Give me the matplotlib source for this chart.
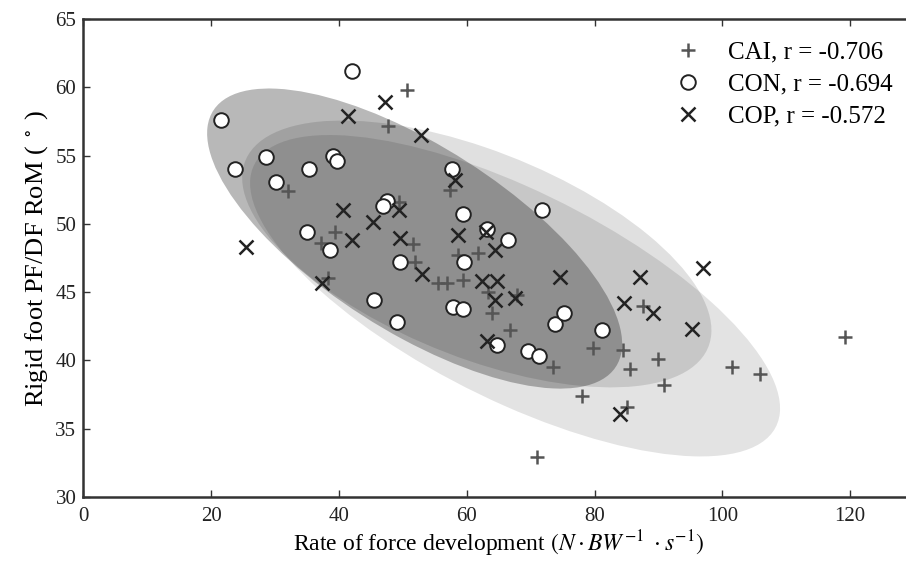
import numpy as np
import matplotlib
matplotlib.use("Agg")
import matplotlib.pyplot as plt
from matplotlib.patches import Ellipse

# Data
cai_x = [50.7, 47.7, 32.0, 49.4, 39.4, 37.2, 51.6, 51.9, 57.4, 61.8, 58.6, 38.3, 55.5, 56.9,
         59.4, 63.3, 63.9, 66.8, 73.5, 78.0, 71.0, 79.8, 67.9, 84.5, 85.6, 85.1, 87.6, 90.0,
         90.8, 101.5, 105.9, 119.2]
cai_y = [59.8, 57.2, 52.4, 51.6, 49.4, 48.6, 48.5, 47.2, 52.5, 47.9, 47.7, 46.0, 45.7, 45.7,
         45.9, 45.0, 43.5, 42.2, 39.5, 37.4, 32.9, 40.9, 44.8, 40.8, 39.4, 36.6, 44.0, 40.1,
         38.2, 39.5, 39.0, 41.7]

con_x = [42.0, 21.6, 23.7, 28.6, 30.2, 35.3, 39.1, 39.7, 47.5, 46.9, 35.0, 38.6, 49.6, 57.7,
         59.4, 71.8, 63.2, 66.5, 59.6, 45.5, 49.1, 57.9, 59.4, 64.7, 69.6, 71.3, 73.8, 75.2, 81.2]
con_y = [61.2, 57.6, 54.0, 54.9, 53.1, 54.0, 55.0, 54.6, 51.7, 51.3, 49.4, 48.1, 47.2, 54.0,
         50.7, 51.0, 49.6, 48.8, 47.2, 44.4, 42.8, 43.9, 43.8, 41.1, 40.7, 40.3, 42.7, 43.5, 42.2]

cop_x = [47.2, 41.4, 52.9, 58.2, 40.6, 45.3, 49.4, 42.0, 49.6, 25.5, 53.0, 37.4, 58.6, 63.0,
         64.4, 62.4, 64.7, 64.4, 67.6, 74.6, 63.2, 84.6, 84.0, 97.0, 87.1, 89.2, 95.3]
cop_y = [58.9, 57.9, 56.5, 53.2, 51.0, 50.1, 51.0, 48.8, 49.0, 48.3, 46.3, 45.7, 49.2, 49.4,
         48.1, 45.8, 45.8, 44.4, 44.6, 46.1, 41.4, 44.2, 36.1, 46.8, 46.1, 43.5, 42.3]

labels = ["CAI, r = -0.706", "CON, r = -0.694", "COP, r = -0.572"]


def conf_ellipse(x, y, n_std, **kw):
    x = np.asarray(x)
    y = np.asarray(y)
    cov = np.cov(x, y)
    vals, vecs = np.linalg.eigh(cov)
    order = vals.argsort()[::-1]
    vals, vecs = vals[order], vecs[:, order]
    angle = np.degrees(np.arctan2(vecs[1, 0], vecs[0, 0]))
    w, h = 2 * n_std * np.sqrt(vals)
    return Ellipse((x.mean(), y.mean()), w, h, angle=angle, **kw)


plt.rcParams['font.family'] = ['Liberation Serif', 'DejaVu Serif']
plt.rcParams['mathtext.fontset'] = 'stix'

fig = plt.figure(figsize=(9.06, 5.62), dpi=100)
ax = fig.add_axes([83.3 / 906, 65 / 562, (130 * 6.39) / 906, 478 / 562])

# 95% ellipses
n_std = 1.96
ax.add_patch(conf_ellipse(cai_x, cai_y, n_std, facecolor='black', alpha=0.11, edgecolor='none'))
ax.add_patch(conf_ellipse(cop_x, cop_y, n_std, facecolor='black', alpha=0.12, edgecolor='none'))
ax.add_patch(conf_ellipse(con_x, con_y, n_std, facecolor='black', alpha=0.28, edgecolor='none'))

ax.plot(cai_x, cai_y, '+', color='#555555', ms=10, mew=1.8, ls='none', label=labels[0])
ax.plot(con_x, con_y, 'o', mfc='white', mec='#222222', ms=10.5, mew=1.4, ls='none', label=labels[1])
ax.plot(cop_x, cop_y, 'x', color='#222222', ms=9.5, mew=1.8, ls='none', label=labels[2])

ax.set_xlim(0, 130)
ax.set_ylim(30, 65)
ax.set_xticks(np.arange(0, 121, 20))
ax.set_yticks(np.arange(30, 66, 5))
ax.tick_params(direction='in', length=5, width=1, labelsize=15, top=True, right=False,
               colors='#333333', labelcolor='#222222')
ax.tick_params(axis='x', pad=7)
ax.tick_params(axis='y', pad=5)
for s in ax.spines.values():
    s.set_linewidth(1.8)
    s.set_color('#333333')

ax.set_xlabel(r'Rate of force development $(N\cdot BW^{-1}\ \cdot s^{-1})$', fontsize=17, labelpad=2)
ax.set_ylabel(r'Rigid foot PF/DF RoM ( $^\circ$ )', fontsize=19, labelpad=4)

ax.legend(loc='upper right', bbox_to_anchor=(0.995, 0.99), frameon=False, fontsize=18,
          handletextpad=0.6, labelspacing=0.38, borderaxespad=0.3)

fig.savefig('out.png', dpi=100)
